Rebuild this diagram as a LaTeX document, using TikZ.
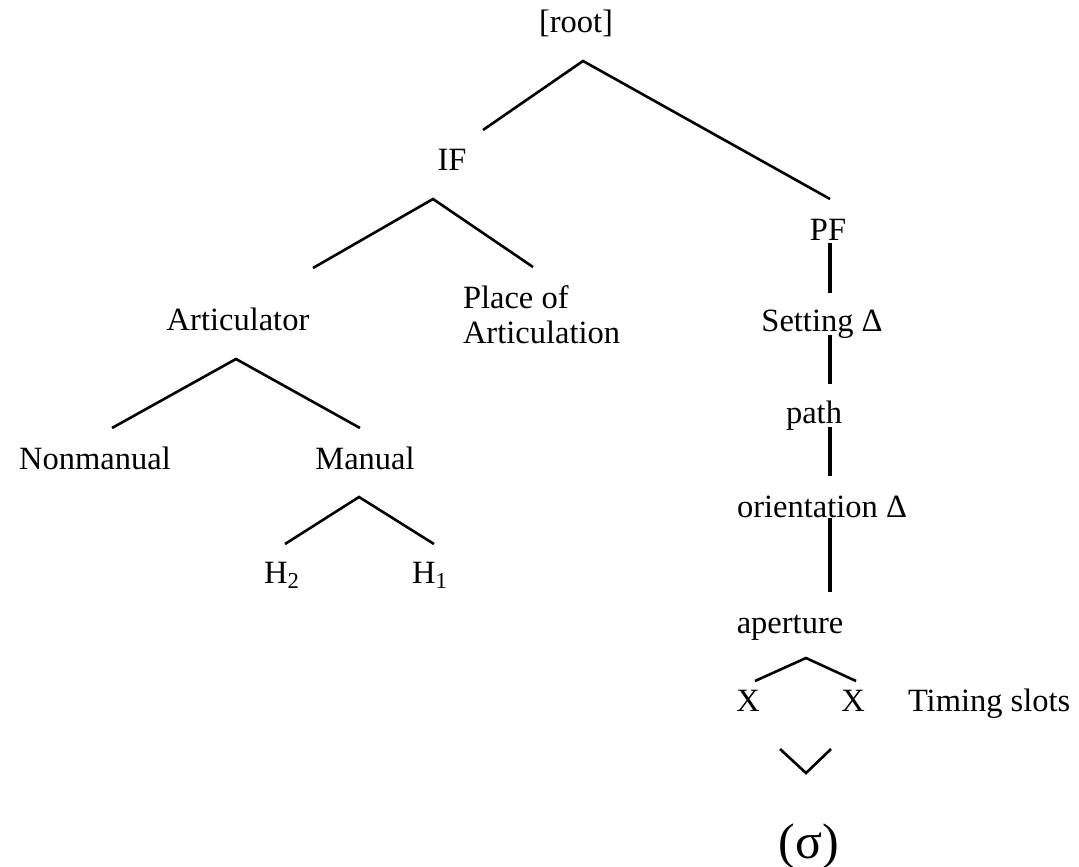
\documentclass[tikz,border=0pt]{standalone}
\usepackage{fontspec}
\setmainfont{Liberation Serif}
\begin{document}
\begin{tikzpicture}[x=0.5pt,y=-0.5pt,
  lbl/.style={inner sep=0pt,outer sep=0pt,anchor=base,font=\fontsize{16.25}{17.5}\selectfont},
  edge/.style={line width=1.3pt},
  stem/.style={line width=1.7pt}]
\useasboundingbox (0,0) rectangle (1079,866);
% labels
\node[lbl] (root) at (576,33) {[root]};
\node[lbl] (IF) at (452,170) {IF};
\node[lbl] (PF) at (828,240) {PF};
\node[lbl] (artic) at (238,330) {Articulator};
\node[lbl,anchor=north west,align=left] (place) at (463,286) {Place of\\Articulation};
\node[lbl] (setting) at (822,331) {Setting Δ};
\node[lbl] (path) at (814,423) {path};
\node[lbl] (orient) at (822,517) {orientation Δ};
\node[lbl] (aperture) at (790,633) {aperture};
\node[lbl] (xl) at (748,711) {X};
\node[lbl] (xr) at (853,711) {X};
\node[lbl,anchor=base west] (timing) at (908,711) {Timing slots};
\node[lbl,font=\fontsize{25}{28}\selectfont] (sigma) at (809,858) {(σ)};
\node[lbl] (nonman) at (95,469) {Nonmanual};
\node[lbl] (manual) at (365,469) {Manual};
\node[lbl] (h2) at (282,583) {H\textsubscript{2}};
\node[lbl] (h1) at (430,583) {H\textsubscript{1}};
% connector end points
\coordinate (rootA) at (583,61);
\coordinate (rootL) at (483,130);
\coordinate (rootR) at (830,199);
\coordinate (ifA) at (433,199);
\coordinate (ifL) at (313,268);
\coordinate (ifR) at (533,267);
\coordinate (arA) at (236,359);
\coordinate (arL) at (112,428);
\coordinate (arR) at (360,428);
\coordinate (maA) at (359,497);
\coordinate (maL) at (285,544);
\coordinate (maR) at (434,544);
\coordinate (pfT) at (830,243);
\coordinate (pfB) at (830,293);
\coordinate (stT) at (830,335);
\coordinate (stB) at (830,384);
\coordinate (paT) at (830,427);
\coordinate (paB) at (830,476);
\coordinate (orT) at (830,518);
\coordinate (orB) at (830,592);
\coordinate (apA) at (806,658);
\coordinate (apL) at (755,681);
\coordinate (apR) at (856,681);
\coordinate (vL) at (780,749);
\coordinate (vB) at (806,773);
\coordinate (vR) at (831,749);
% connectors
\draw[edge] (rootL) -- (rootA) -- (rootR);
\draw[edge] (ifL) -- (ifA) -- (ifR);
\draw[edge] (arL) -- (arA) -- (arR);
\draw[edge] (maL) -- (maA) -- (maR);
\draw[stem] (pfT) -- (pfB);
\draw[stem] (stT) -- (stB);
\draw[stem] (paT) -- (paB);
\draw[stem] (orT) -- (orB);
\draw[edge] (apL) -- (apA) -- (apR);
\draw[edge] (vL) -- (vB) -- (vR);
\end{tikzpicture}
\end{document}
